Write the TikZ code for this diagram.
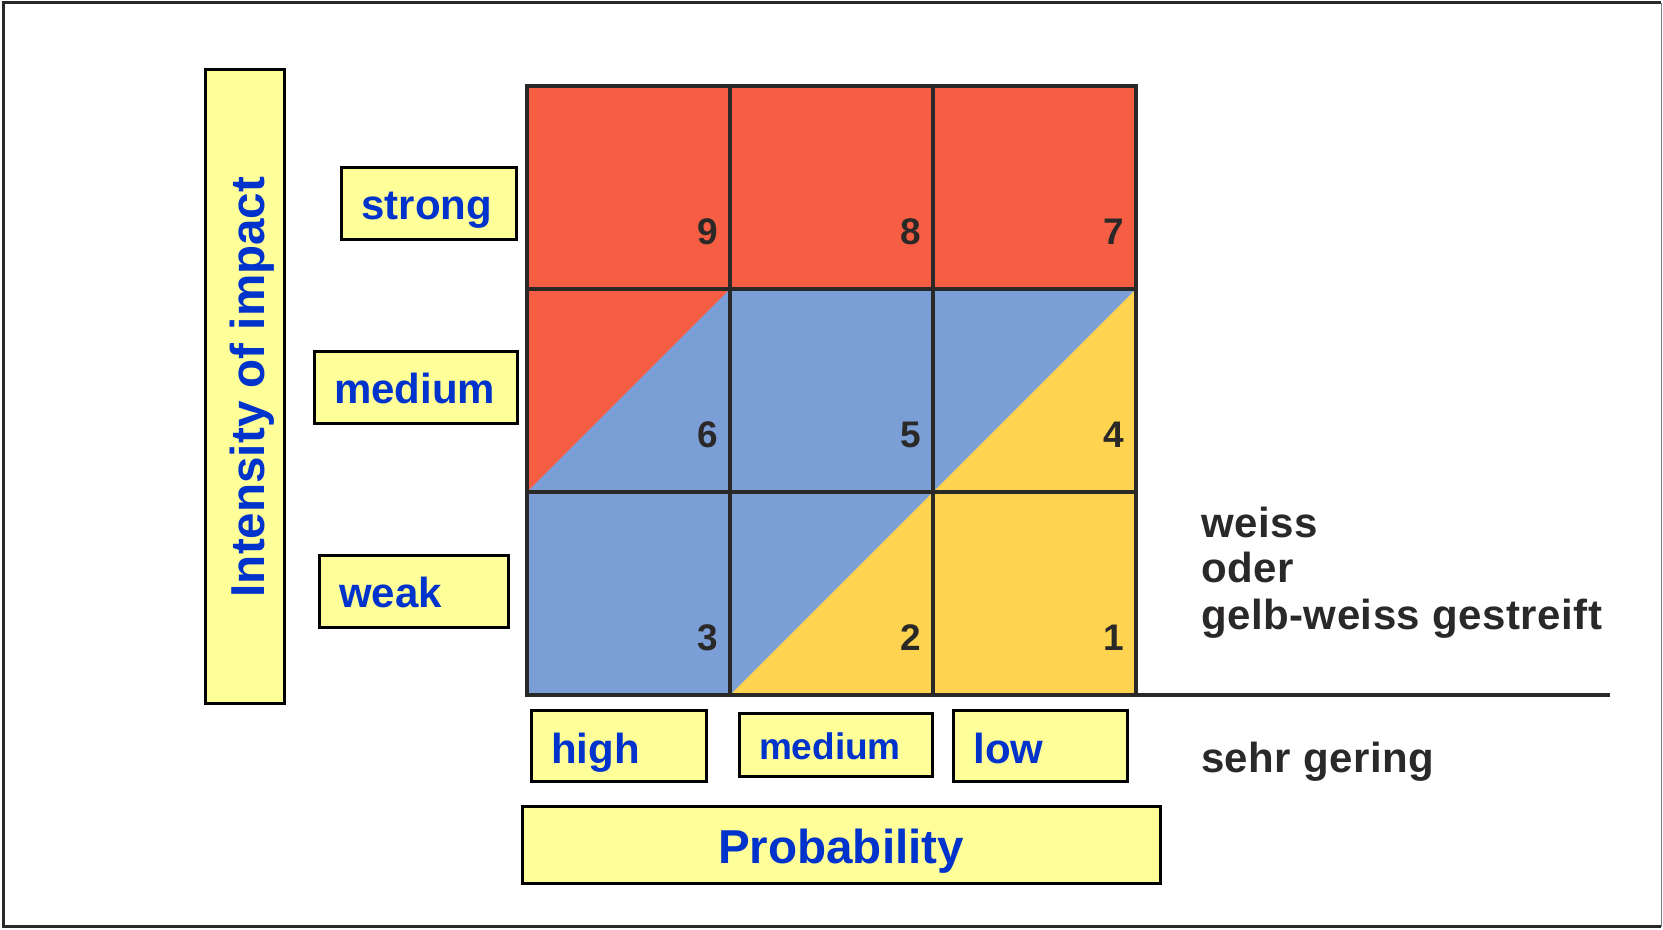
\documentclass[tikz,border=0pt]{standalone}
\usepackage{fontspec}
\setmainfont{Liberation Sans}
\usetikzlibrary{positioning, calc}
\definecolor{rojoriesgo}{HTML}{F65E44}
\definecolor{azulriesgo}{HTML}{7B9ED6}
\definecolor{amarilloriesgo}{HTML}{FED350}
\definecolor{amarilloclaro}{HTML}{FFFF99}
\definecolor{azultexto}{HTML}{0033CC}
\definecolor{grisoscuro}{HTML}{2B2828}
\colorlet{colAlto}{rojoriesgo}
\colorlet{colMedio}{azulriesgo}
\colorlet{colBajo}{amarilloriesgo}
\colorlet{colEtiqueta}{amarilloclaro}
\colorlet{colTexto}{azultexto}
\colorlet{colLinea}{grisoscuro}
\tikzset{
  celda/.style={minimum size=101.5pt, inner sep=0pt, outer sep=0pt},
  celdaAlta/.style={celda, fill=colAlto},
  celdaMedia/.style={celda, fill=colMedio},
  celdaBaja/.style={celda, fill=colBajo},
  rejilla/.style={draw=colLinea, line width=2pt},
  numeroCelda/.style={inner sep=0pt, font=\fontsize{18.5}{20}\selectfont\bfseries,
    text=colLinea},
  cajaEtiqueta/.style={draw=black, line width=1.5pt, fill=colEtiqueta, text=colTexto,
    font=\fontsize{21}{24}\selectfont\bfseries, inner xsep=10pt, inner ysep=0pt,
    align=left, text height=26pt, text depth=10pt},
  cajaEje/.style={cajaEtiqueta, align=center,
    font=\fontsize{23.8}{27}\selectfont\bfseries},
  textoGris/.style={anchor=base west, inner sep=0pt, text=colLinea,
    font=\fontsize{21}{24}\selectfont\bfseries\addfontfeature{LetterSpace=1.2}},
}

\begin{document}
\begin{tikzpicture}[x=0.5pt, y=0.5pt]
    \useasboundingbox (0,0) rectangle (1663,930);
    % marco
    \draw[colLinea, line width=1.5pt] (1661,927) -- (3.5,927) -- (3.5,3) -- (1661,3);
    \draw[gray, line width=0.5pt] (1661.5,927) -- (1661.5,3);
    % matriz
    \node[celdaAlta] (c9) at (628.5,742.5) {};
    \node[celdaAlta, right=0pt of c9] (c8) {};
    \node[celdaAlta, right=0pt of c8] (c7) {};
    \node[celdaMedia, below=0pt of c9] (c6) {};
    \node[celdaMedia, right=0pt of c6] (c5) {};
    \node[celdaMedia, right=0pt of c5] (c4) {};
    \node[celdaMedia, below=0pt of c6] (c3) {};
    \node[celdaMedia, right=0pt of c3] (c2) {};
    \node[celdaBaja, right=0pt of c2] (c1) {};
    \fill[colAlto] (c6.north west) -- (c6.north east) -- (c6.south west) -- cycle;
    \fill[colBajo] (c4.north east) -- (c4.south east) -- (c4.south west) -- cycle;
    \fill[colBajo] (c2.north east) -- (c2.south east) -- (c2.south west) -- cycle;
    \draw[rejilla] (c9.north west) rectangle (c1.south east);
    \draw[rejilla] (c9.north east) -- (c3.south east);
    \draw[rejilla] (c8.north east) -- (c2.south east);
    \draw[rejilla] (c9.south west) -- (c7.south east);
    \draw[rejilla] (c6.south west) -- (c4.south east);
    \coordinate (finLinea) at (1610,235);
    \draw[rejilla] (c1.south east) -- (finLinea);
    % numeros
    \node[numeroCelda, above left=22pt and 6pt of c9.south east] (n9) {9};
    \node[numeroCelda, above left=22pt and 6pt of c8.south east] (n8) {8};
    \node[numeroCelda, above left=22pt and 6pt of c7.south east] (n7) {7};
    \node[numeroCelda, above left=22pt and 6pt of c6.south east] (n6) {6};
    \node[numeroCelda, above left=22pt and 6pt of c5.south east] (n5) {5};
    \node[numeroCelda, above left=22pt and 6pt of c4.south east] (n4) {4};
    \node[numeroCelda, above left=22pt and 6pt of c3.south east] (n3) {3};
    \node[numeroCelda, above left=22pt and 6pt of c2.south east] (n2) {2};
    \node[numeroCelda, above left=22pt and 6pt of c1.south east] (n1) {1};
    % etiquetas
    \node[cajaEtiqueta, text width=67.5pt] (fuerte) at (429,726.3) {strong};
    \node[cajaEtiqueta, text width=81.8pt] (medioImpacto) at (415.8,542) {medium};
    \node[cajaEtiqueta, text width=74.5pt] (debil) at (413.5,338.2) {weak};
    \node[cajaEtiqueta, text width=67.5pt, text height=26.5pt, text depth=9pt]
      (alta) at (618.5,183.85) {high};
    \node[cajaEtiqueta, text width=76.5pt, text height=22.7pt, text depth=8.8pt,
      font=\fontsize{18.5}{21}\selectfont\bfseries] (media) at (835.5,184.5) {medium};
    \node[cajaEtiqueta, text width=66.75pt, text height=26.5pt, text depth=9pt]
      (baja) at (1040.25,183.85) {low};
    \node[cajaEje, minimum width=319pt, text height=28.5pt, text depth=9.75pt]
      (probabilidad) at (841,84.75) {Probability};
    \node[cajaEje, rotate=90, minimum width=317pt, text height=29.2pt, text depth=10pt]
      (intensidad) at (245,543) {Intensity of impact};
    % texto lateral
    \node[textoGris] (weiss) at (1200.6,392) {weiss};
    \node[textoGris] (oder) at (1200.6,347) {oder};
    \node[textoGris] (gestreift) at (1200.6,300) {gelb-weiss gestreift};
    \node[textoGris] (sehrGering) at (1200.6,157) {sehr gering};
  \end{tikzpicture}
\end{document}
